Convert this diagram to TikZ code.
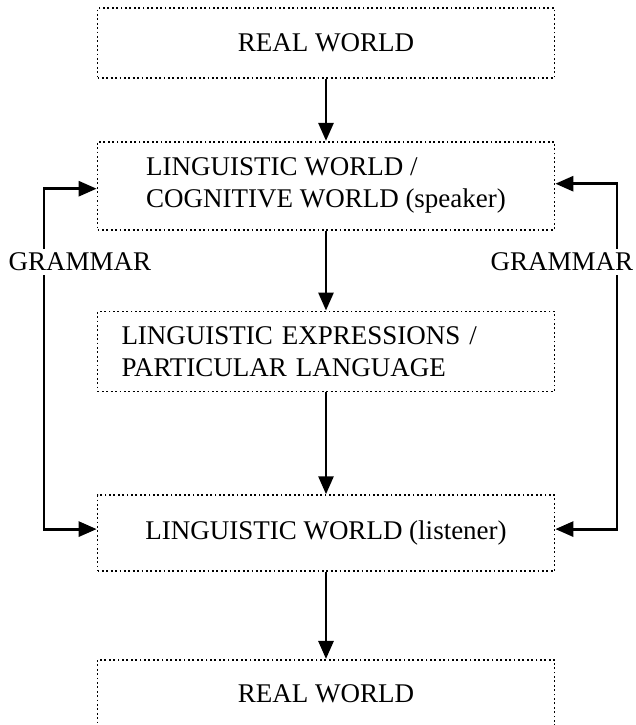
\documentclass[tikz,border=0pt]{standalone}
\usepackage{fontspec}
\setmainfont{Liberation Serif}
\usetikzlibrary{positioning, arrows.meta}

\begin{document}
\begin{tikzpicture}[
  >={Triangle[length=18pt,width=15pt]},
  box/.style={draw, dash pattern=on 1.8pt off 2.6pt, line width=1.7pt, minimum width=457pt, inner sep=4pt, align=center, font=\fontsize{27}{32}\selectfont},
  gram/.style={inner sep=4pt, font=\fontsize{27}{32}\selectfont},
  line/.style={->, line width=2.8pt}
]
\useasboundingbox (0,0) rectangle (635pt,-725pt);

% Column of boxes
\node[box, minimum height=70pt] (real1) at (326pt,-43pt) {REAL WORLD};
\node[box, minimum height=88pt, below=62pt of real1, align=left] (speaker) {LINGUISTIC WORLD /\\COGNITIVE WORLD (speaker)};
\node[box, minimum height=80pt, below=80pt of speaker, text width=409pt, align=left] (expr) {LINGUISTIC EXPRESSIONS /\\PARTICULAR LANGUAGE};
\node[box, minimum height=76pt, below=102pt of expr] (listener) {LINGUISTIC WORLD (listener)};
\node[box, minimum height=67pt, below=87pt of listener] (real2) {REAL WORLD};

% Grammar labels on both sides
\node[gram] (lgram) at (80pt,-262pt) {GRAMMAR};
\node[gram] (rgram) at (562pt,-262pt) {GRAMMAR};
\coordinate (lline) at (44pt,-262pt);
\coordinate (rline) at (617pt,-262pt);

% Arrows down the column
\draw[line] (real1) -- (speaker);
\draw[line] (speaker) -- (expr);
\draw[line] (expr) -- (listener);
\draw[line] (listener) -- (real2);

% Side arrows
\draw[line] (lgram.north -| lline) |- ([yshift=-3pt]speaker.west);
\draw[line] (lgram.south -| lline) |- ([yshift=4pt]listener.west);
\draw[line] (rgram.north -| rline) |- ([yshift=2pt]speaker.east);
\draw[line] (rgram.south -| rline) |- ([yshift=4pt]listener.east);

\end{tikzpicture}
\end{document}
